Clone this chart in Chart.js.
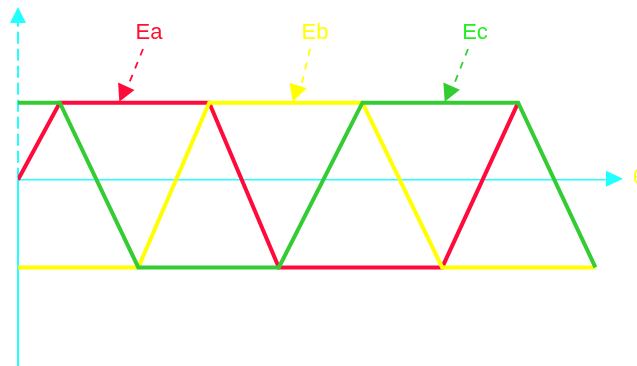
<!DOCTYPE html>
<html>
<head>
<meta charset="utf-8">
<script src="https://cdn.jsdelivr.net/npm/chart.js@4"></script>
<style>
  html, body { margin: 0; padding: 0; background: #fff; overflow: hidden; }
  #wrap { width: 637px; height: 366px; }
</style>
</head>
<body>
<div id="wrap"><canvas id="emfChart"></canvas></div>
<script>
// electrical angle (deg) / normalised EMF for each phase
const eaAngle = [0, 33, 151, 206, 335, 395];
const eaValue = [0, 1, 1, -1.14, -1.14, 1];
const ebAngle = [0, 95, 151, 272, 335, 456];
const ebValue = [-1.14, -1.14, 1, 1, -1.14, -1.14];
const ecAngle = [0, 33, 95, 206, 272, 395, 456];
const ecValue = [1, 1, -1.14, -1.14, 1, 1, -1.14];

const seriesNames = ['Ea', 'Eb', 'Ec'];
// where each label arrow points (angle, value)
const labelTarget = [[80, 1], [217, 1], [337, 1]];

const RED = '#ff0a3a';
const YELLOW = '#ffff00';
const GREEN = '#33cc33';
const CYAN = '#22ffff';

function toPoints(xs, ys) {
    return xs.map((x, i) => ({ x: x, y: ys[i] }));
}

function arrowHead(ctx, tipX, tipY, fromX, fromY, len, half) {
    const a = Math.atan2(tipY - fromY, tipX - fromX);
    ctx.beginPath();
    ctx.moveTo(tipX, tipY);
    ctx.lineTo(tipX - len * Math.cos(a) + half * Math.sin(a), tipY - len * Math.sin(a) - half * Math.cos(a));
    ctx.lineTo(tipX - len * Math.cos(a) - half * Math.sin(a), tipY - len * Math.sin(a) + half * Math.cos(a));
    ctx.closePath();
    ctx.fill();
}

const axesPlugin = {
    id: 'axesPlugin',
    beforeDatasetsDraw(chart) {
        const ctx = chart.ctx;
        const x0 = chart.scales.x.getPixelForValue(0);
        const y0 = chart.scales.y.getPixelForValue(0);
        ctx.save();
        ctx.strokeStyle = CYAN;
        ctx.fillStyle = CYAN;

        // vertical axis: dashed above zero, solid below
        ctx.lineWidth = 2;
        ctx.setLineDash([12, 5]);
        ctx.beginPath();
        ctx.moveTo(x0, y0);
        ctx.lineTo(x0, 22);
        ctx.stroke();
        ctx.setLineDash([]);
        ctx.beginPath();
        ctx.moveTo(x0, y0);
        ctx.lineTo(x0, chart.height);
        ctx.stroke();
        arrowHead(ctx, x0, 7, x0, 30, 16, 8);

        // horizontal axis
        ctx.lineWidth = 1.5;
        ctx.beginPath();
        ctx.moveTo(x0, y0);
        ctx.lineTo(608, y0);
        ctx.stroke();
        arrowHead(ctx, 623, y0 - 1, 600, y0 - 1, 17, 8);

        ctx.fillStyle = YELLOW;
        ctx.font = '20px "Liberation Sans", Arial, sans-serif';
        ctx.textBaseline = 'middle';
        ctx.fillText('θ', 633, y0 - 1);
        ctx.restore();
    },
    afterDatasetsDraw(chart) {
        const ctx = chart.ctx;
        const colors = [RED, YELLOW, GREEN];
        const textX = [149, 315, 475];
        const startX = [143, 310, 468];
        ctx.save();
        ctx.font = '22px "Liberation Sans", Arial, sans-serif';
        ctx.textAlign = 'center';
        ctx.textBaseline = 'alphabetic';
        seriesNames.forEach((name, i) => {
            const color = i === 2 ? '#22ee22' : (i === 0 ? '#ff1030' : colors[i]);
            ctx.fillStyle = color;
            ctx.fillText(name, textX[i], 39);

            const tx = chart.scales.x.getPixelForValue(labelTarget[i][0]);
            const ty = chart.scales.y.getPixelForValue(labelTarget[i][1]) - 1;
            ctx.strokeStyle = colors[i];
            ctx.fillStyle = colors[i];
            ctx.lineWidth = 1.8;
            ctx.setLineDash([7, 7]);
            ctx.beginPath();
            ctx.moveTo(startX[i], 49);
            ctx.lineTo(tx + 8, ty - 14);
            ctx.stroke();
            ctx.setLineDash([]);
            arrowHead(ctx, tx, ty, startX[i], 49, 17, 9);
        });
        ctx.restore();
    }
};

const ctx = document.getElementById('emfChart').getContext('2d');

function phase(label, xs, ys, color) {
    return {
        label: label,
        data: toPoints(xs, ys),
        borderColor: color,
        backgroundColor: color,
        borderWidth: 4,
        pointRadius: 0,
        tension: 0,
        fill: false,
        borderJoinStyle: 'miter'
    };
}

new Chart(ctx, {
    type: 'line',
    data: {
        datasets: [
            phase('Ec', ecAngle, ecValue, GREEN),
            phase('Eb', ebAngle, ebValue, YELLOW),
            phase('Ea', eaAngle, eaValue, RED)
        ]
    },
    options: {
        responsive: true,
        maintainAspectRatio: false,
        animation: false,
        events: [],
        layout: { padding: { left: 18, right: 15, top: 8, bottom: 0 } },
        plugins: {
            legend: { display: false },
            tooltip: { enabled: false }
        },
        scales: {
            x: { type: 'linear', min: 0, max: 477, display: false },
            y: { type: 'linear', min: -2.42, max: 2.23, display: false }
        }
    },
    plugins: [axesPlugin]
});
</script>
</body>
</html>
